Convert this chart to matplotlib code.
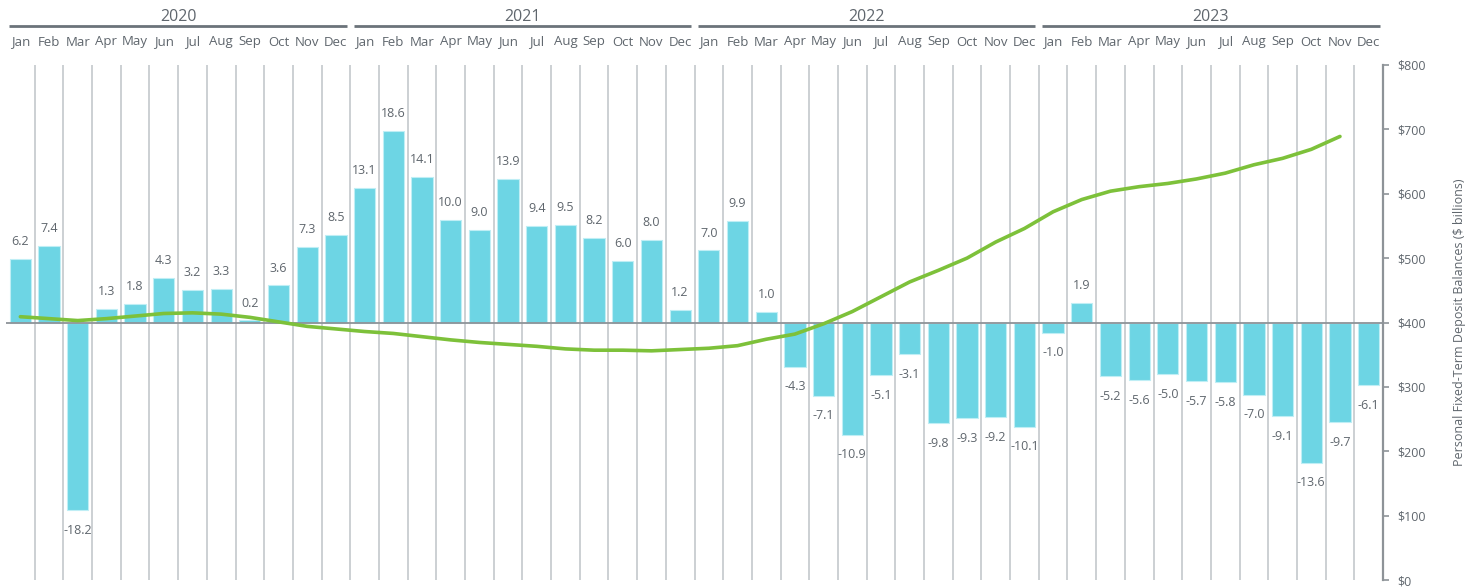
import matplotlib
matplotlib.use("Agg")
import matplotlib.pyplot as plt
import numpy as np

plt.rcParams['font.family'] = ['Open Sans', 'DejaVu Sans']

years = ["2020", "2021", "2022", "2023"]
months = ["Jan", "Feb", "Mar", "Apr", "May", "Jun", "Jul", "Aug", "Sep", "Oct", "Nov", "Dec"]

changes_2020 = [6.2, 7.4, -18.2, 1.3, 1.8, 4.3, 3.2, 3.3, 0.2, 3.6, 7.3, 8.5]
changes_2021 = [13.1, 18.6, 14.1, 10.0, 9.0, 13.9, 9.4, 9.5, 8.2, 6.0, 8.0, 1.2]
changes_2022 = [7.0, 9.9, 1.0, -4.3, -7.1, -10.9, -5.1, -3.1, -9.8, -9.3, -9.2, -10.1]
changes_2023 = [-1.0, 1.9, -5.2, -5.6, -5.0, -5.7, -5.8, -7.0, -9.1, -13.6, -9.7, -6.1]

balance_2020 = [409, 406, 403, 406, 410, 414, 415, 413, 408, 401, 394, 390]
balance_2021 = [386, 383, 378, 373, 369, 366, 363, 359, 357, 357, 356, 358]
balance_2022 = [360, 364, 374, 382, 398, 417, 440, 463, 481, 500, 525, 546]
balance_2023 = [572, 591, 604, 611, 616, 623, 632, 645, 655, 669, 689]

changes = changes_2020 + changes_2021 + changes_2022 + changes_2023
balance = balance_2020 + balance_2021 + balance_2022 + balance_2023
n = len(changes)
x = np.arange(n)

BAR = "#6dd5e4"
LINE = "#7dc13a"
TXT = "#5f666d"
GRID = "#c4c8cc"

fig = plt.figure(figsize=(14.81, 5.88), dpi=100)
ax = fig.add_axes([6/1481, 1-580/588, (1383-6)/1481, (580-65)/588])
ax2 = ax.twinx()

ax.set_xlim(-0.5, n - 0.5)
ax.set_ylim(-25, 25)
ax2.set_ylim(0, 800)

for b in np.arange(0.5, n - 1, 1.0):
    ax.axvline(b, color=GRID, lw=1.2, zorder=0)

ax.bar(x, changes, width=0.74, color=BAR, edgecolor="#bfeef5", linewidth=0.8, zorder=2)
ax.axhline(0, color="#8e9398", lw=1.3, zorder=3)

for xi, v in zip(x, changes):
    off = 12.5 if v >= 0 else -14.5
    ax.annotate(f"{v:.1f}", (xi, v), xytext=(0, off), textcoords="offset points",
                ha="center", va="center",
                fontsize=9, color=TXT, zorder=5)

ax2.plot(np.arange(len(balance)), balance, color=LINE, lw=2.6, zorder=4,
         solid_capstyle="round")
ax2.set_zorder(ax.get_zorder() + 1)
ax2.patch.set_visible(False)

for a in (ax, ax2):
    for s in ("top", "left", "bottom"):
        a.spines[s].set_visible(False)
ax.spines["right"].set_visible(False)
ax2.spines["right"].set_color("#8e9398")
ax2.spines["right"].set_linewidth(1.6)

ax.set_yticks([])
ax.set_xticks([])
ax2.set_yticks(np.arange(0, 801, 100))
ax2.set_yticklabels([f"${v}" for v in range(0, 801, 100)])
ax2.tick_params(axis="y", colors="#8e9398", labelcolor=TXT, labelsize=9,
                length=4, width=1.2, pad=6)
ax2.set_ylabel("Personal Fixed-Term Deposit Balances ($ billions)", color=TXT,
               fontsize=9, labelpad=20)

# month labels and year headers
trans = ax.get_xaxis_transform()
for i in range(n):
    ax.text(i, 1 + 23/515, months[i % 12], transform=trans, ha="center", va="center",
            fontsize=9.5, color=TXT, clip_on=False)
for k, yr in enumerate(years):
    start = k * 12 - 0.5 + 0.12
    end = k * 12 + 11.5 - 0.12
    ax.plot([start, end], [1 + 39.5/515, 1 + 39.5/515], transform=trans, color="#6b737a",
            lw=2, clip_on=False, solid_capstyle="butt")
    ax.text(k * 12 + 5.5, 1 + 48/515, yr, transform=trans, ha="center", va="center",
            fontsize=11.5, color=TXT, clip_on=False)

fig.savefig("out.png", dpi=100)
